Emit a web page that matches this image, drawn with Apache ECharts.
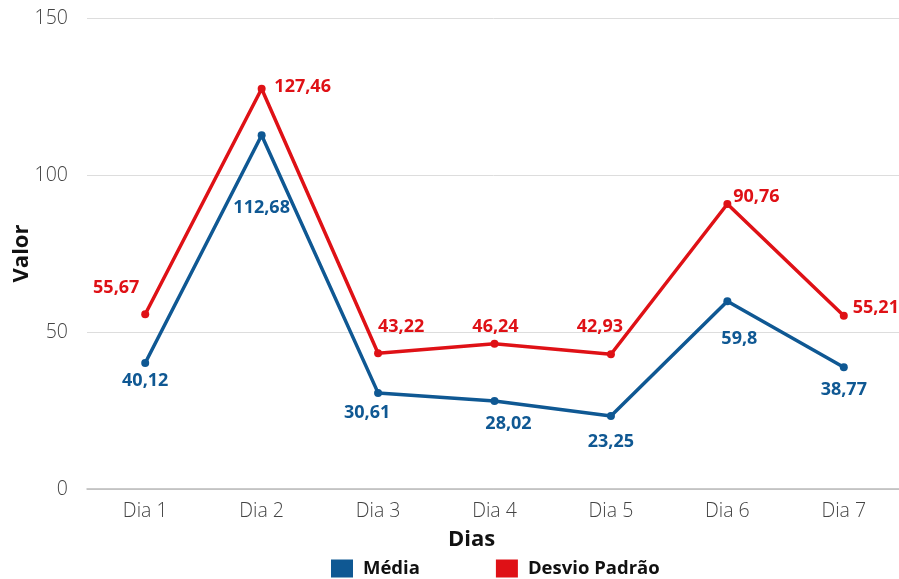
<!DOCTYPE html>
<html><head><meta charset="utf-8">
<script src="https://cdn.jsdelivr.net/npm/echarts@6/dist/echarts.min.js"></script>
<style>html,body{margin:0;padding:0;background:#fff}#c{width:899px;height:579px}</style>
</head><body><div id="c"></div>
<script>
const categories = ['Dia 1','Dia 2','Dia 3','Dia 4','Dia 5','Dia 6','Dia 7'];
const media = [40.12, 112.68, 30.61, 28.02, 23.25, 59.8, 38.77];
const desvio = [55.67, 127.46, 43.22, 46.24, 42.93, 90.76, 55.21];
const yTicks = [0, 50, 100, 150];

const blue = '#0f5893', red = '#df1116';
const fmt = v => String(v).replace('.', ',');
// label placement (style only)
const mediaLbl = [[0,18],[0,73],[-11,20],[14,23],[0,26],[12,38],[0,23]];
const desvioLbl = [[-29,-26],[41,-2],[23,-26],[1,-17],[-11,-27],[29,-7],[32,-8]];
function mk(vals, offs, color){
  return vals.map((v,i)=>({value:v,label:{show:true,position:'inside',offset:offs[i],formatter:fmt(v),color:color,fontFamily:'Open Sans',fontWeight:'bold',fontSize:18}}));
}
const chart = echarts.init(document.getElementById('c'));
chart.setOption({
  animation:false,
  grid:{left:87,right:-3,top:18,bottom:90,containLabel:false,outerBoundsMode:'none'},
  legend:{top:559,left:331,padding:0,itemWidth:22,itemHeight:18,itemGap:76,icon:'rect',
    textStyle:{fontFamily:'Open Sans',fontWeight:'bold',fontSize:18.5,color:'#111',padding:[0,0,0,5]},
    data:['Média','Desvio Padrão']},
  xAxis:{type:'category',data:categories,boundaryGap:true,
    name:'Dias',nameLocation:'middle',nameGap:40,nameMoveOverlap:false,
    nameTextStyle:{fontFamily:'Open Sans',fontWeight:'bold',fontSize:22,color:'#111',padding:[0,46,0,0]},
    axisLine:{lineStyle:{color:'#bbb',width:1.5}},axisTick:{show:false},
    axisLabel:{fontFamily:'Open Sans',fontWeight:300,fontSize:19.5,color:'#444',margin:12}},
  yAxis:{type:'value',min:yTicks[0],max:yTicks[yTicks.length-1],interval:50,
    name:'Valor',nameLocation:'middle',nameGap:54,nameMoveOverlap:false,
    nameTextStyle:{fontFamily:'Open Sans',fontWeight:'bold',fontSize:22,color:'#111'},
    axisLine:{show:false},axisTick:{show:false},
    axisLabel:{fontFamily:'Open Sans',fontWeight:300,fontSize:19.5,color:'#444',margin:19},
    splitLine:{lineStyle:{color:'#ddd',width:1}}},
  series:[
    {name:'Média',type:'line',data:mk(media,mediaLbl,blue),color:blue,
      lineStyle:{width:3.5,color:blue},symbol:'circle',symbolSize:8,itemStyle:{color:blue}},
    {name:'Desvio Padrão',type:'line',data:mk(desvio,desvioLbl,red),color:red,
      lineStyle:{width:3.5,color:red},symbol:'circle',symbolSize:8,itemStyle:{color:red}}
  ]
});
</script></body></html>
